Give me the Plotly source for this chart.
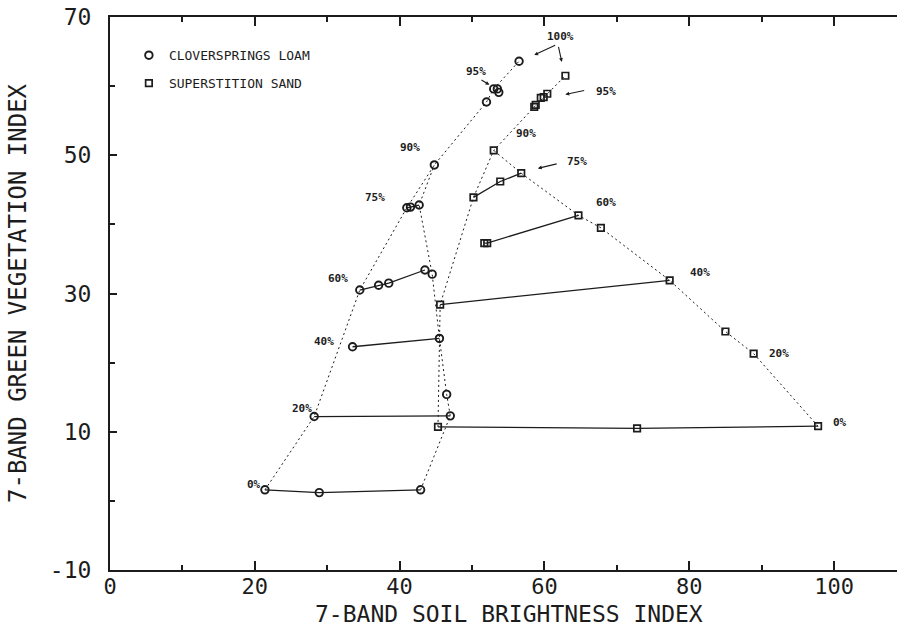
import plotly.graph_objects as go

# ---------------- data: Cloverspings loam (circles) ----------------
loam_0_x = [21.4, 28.9, 42.9]
loam_0_y = [1.6, 1.2, 1.6]
loam_20_x = [28.2, 47.0]
loam_20_y = [12.2, 12.3]
loam_40_x = [33.5, 45.5]
loam_40_y = [22.3, 23.5]
loam_60_x = [34.5, 37.1, 38.5, 43.5]
loam_60_y = [30.5, 31.2, 31.5, 33.4]
loam_75_x = [41.0, 41.5, 42.7]
loam_75_y = [42.4, 42.5, 42.8]
loam_95_x = [52.0, 53.0, 53.5, 53.7]
loam_95_y = [57.7, 59.6, 59.6, 59.1]
loam_single_x = [46.5, 44.5, 44.8, 56.5]
loam_single_y = [15.4, 32.8, 48.6, 63.6]

loam_chainA_x = [21.4, 28.2, 34.5, 41.0, 44.8, 52.0, 53.0, 56.5]
loam_chainA_y = [1.6, 12.2, 30.5, 42.4, 48.6, 57.7, 59.6, 63.6]
loam_chainB_x = [42.9, 47.0, 46.5, 45.5, 44.5, 42.7, 44.8]
loam_chainB_y = [1.6, 12.3, 15.4, 23.5, 32.8, 42.8, 48.6]

# ---------------- data: Superstition sand (squares) ----------------
sand_0_x = [45.3, 72.8, 97.8]
sand_0_y = [10.7, 10.5, 10.8]
sand_40_x = [45.6, 77.3]
sand_40_y = [28.4, 31.9]
sand_60_x = [51.7, 52.1, 64.7]
sand_60_y = [37.3, 37.3, 41.3]
sand_75_x = [50.2, 53.9, 56.8]
sand_75_y = [43.9, 46.2, 47.4]
sand_single_x = [88.9, 85.0, 67.8, 53.0, 62.9]
sand_single_y = [21.3, 24.5, 39.5, 50.7, 61.5]
sand_95_x = [58.6, 58.8, 59.5, 59.9, 60.4]
sand_95_y = [57.0, 57.3, 58.3, 58.4, 58.9]

sand_chainC_x = [45.3, 45.6, 50.2, 53.0, 58.7, 62.9]
sand_chainC_y = [10.7, 28.4, 43.9, 50.7, 57.1, 61.5]
sand_chainD_x = [97.8, 88.9, 85.0, 77.3, 67.8, 64.7, 56.8, 53.0]
sand_chainD_y = [10.8, 21.3, 24.5, 31.9, 39.5, 41.3, 47.4, 50.7]

# ---------------- labels ----------------
label_text = ["0%", "20%", "40%", "60%", "75%", "90%", "95%", "100%",
              "95%", "90%", "75%", "60%", "40%", "20%", "0%"]
label_x = [19.9, 26.5, 29.6, 31.5, 36.6, 41.5, 50.6, 62.2,
           68.5, 57.5, 64.5, 68.5, 81.5, 92.4, 100.8]
label_y = [2.4, 13.4, 23.1, 32.2, 43.9, 51.1, 62.1, 67.2,
           59.2, 53.1, 49.1, 43.1, 33.1, 21.3, 11.4]

arrow_tail_x = [51.1, 61.7, 61.9, 65.7, 61.9]
arrow_tail_y = [61.0, 66.0, 65.9, 59.4, 48.8]
arrow_head_x = [52.4, 58.6, 62.4, 62.9, 59.1]
arrow_head_y = [60.2, 64.5, 63.5, 58.8, 48.1]

x_ticks = [0, 20, 40, 60, 80, 100]
y_ticks = [-10, 10, 30, 50, 70]
x_title = "7-BAND SOIL BRIGHTNESS INDEX"
y_title = "7-BAND GREEN VEGETATION INDEX"

INK = "#1c1c1c"
FONT = "DejaVu Sans Mono"

fig = go.Figure()

def dotted(x, y):
    fig.add_trace(go.Scatter(x=x, y=y, mode="lines", showlegend=False,
                             line=dict(color=INK, width=1, dash="2px,3px"),
                             hoverinfo="skip"))

def solid(x, y):
    fig.add_trace(go.Scatter(x=x, y=y, mode="lines", showlegend=False,
                             line=dict(color=INK, width=1.3),
                             hoverinfo="skip"))

for cx, cy in [(loam_chainA_x, loam_chainA_y), (loam_chainB_x, loam_chainB_y),
               (sand_chainC_x, sand_chainC_y), (sand_chainD_x, sand_chainD_y)]:
    dotted(cx, cy)

for sx, sy in [(loam_0_x, loam_0_y), (loam_20_x, loam_20_y), (loam_40_x, loam_40_y),
               (loam_60_x, loam_60_y), (loam_75_x, loam_75_y),
               (sand_0_x, sand_0_y), (sand_40_x, sand_40_y),
               (sand_60_x, sand_60_y), (sand_75_x, sand_75_y)]:
    solid(sx, sy)

circle_x = loam_0_x + loam_20_x + loam_40_x + loam_60_x + loam_75_x + loam_95_x + loam_single_x
circle_y = loam_0_y + loam_20_y + loam_40_y + loam_60_y + loam_75_y + loam_95_y + loam_single_y
square_x = sand_0_x + sand_40_x + sand_60_x + sand_75_x + sand_single_x + sand_95_x
square_y = sand_0_y + sand_40_y + sand_60_y + sand_75_y + sand_single_y + sand_95_y

fig.add_trace(go.Scatter(x=circle_x, y=circle_y, mode="markers",
                         name="CLOVERSPRINGS LOAM", legendgroup="a",
                         marker=dict(symbol="circle-open", size=7.5, color=INK,
                                     line=dict(width=1.9, color=INK))))
fig.add_trace(go.Scatter(x=square_x, y=square_y, mode="markers",
                         name="SUPERSTITION SAND", legendgroup="b",
                         marker=dict(symbol="square-open", size=6.5, color=INK,
                                     line=dict(width=1.7, color=INK))))

annotations = []
for t, x, y in zip(label_text, label_x, label_y):
    annotations.append(dict(x=x, y=y, xref="x", yref="y", text=t, showarrow=False,
                            font=dict(family=FONT, size=11, color=INK, weight="bold")))
for tx, ty, hx, hy in zip(arrow_tail_x, arrow_tail_y, arrow_head_x, arrow_head_y):
    annotations.append(dict(x=hx, y=hy, ax=tx, ay=ty, xref="x", yref="y",
                            axref="x", ayref="y", text="", showarrow=True,
                            arrowhead=2, arrowsize=0.7, arrowwidth=1.1,
                            arrowcolor=INK, standoff=0))
# x axis title
annotations.append(dict(x=0.5076, y=-0.0795, xref="paper", yref="paper",
                        xanchor="center", yanchor="middle", text=x_title,
                        showarrow=False, font=dict(family=FONT, size=23, color=INK)))

fig.update_layout(
    width=897, height=630,
    margin=dict(l=110, r=0, t=17, b=60, autoexpand=False),
    paper_bgcolor="white", plot_bgcolor="white",
    font=dict(family=FONT, color=INK),
    showlegend=True,
    legend=dict(x=0.024, y=0.958, xanchor="left", yanchor="top",
                bgcolor="rgba(0,0,0,0)", tracegroupgap=8,
                font=dict(family=FONT, size=13, color=INK)),
    annotations=annotations,
    xaxis=dict(range=[0, 108.7], tickvals=x_ticks, ticktext=[str(v) for v in x_ticks],
               automargin=False,
               showgrid=False, zeroline=False, showline=True, linecolor=INK,
               linewidth=2, mirror="ticks", ticks="inside", ticklen=9,
               tickwidth=1.5, tickcolor=INK,
               minor=dict(dtick=10, tick0=0, ticks="inside", ticklen=5,
                          tickwidth=1.5, tickcolor=INK, showgrid=False),
               tickfont=dict(family=FONT, size=22, color=INK), ticklabelstandoff=-4),
    yaxis=dict(range=[-10, 70], tickvals=y_ticks, ticktext=[str(v) for v in y_ticks],
               automargin=False,
               showgrid=False, zeroline=False, showline=True, linecolor=INK,
               linewidth=2, mirror=False, ticks="inside", ticklen=7,
               tickwidth=1.5, tickcolor=INK,
               minor=dict(dtick=20, tick0=0, ticks="inside", ticklen=5,
                          tickwidth=1.5, tickcolor=INK, showgrid=False),
               tickfont=dict(family=FONT, size=23, color=INK), ticklabelstandoff=12,
               title=dict(text=y_title, standoff=16,
                          font=dict(family=FONT, size=24, color=INK))),
)

fig.write_html("out.html", config={"displayModeBar": False},
               post_script="document.body.style.margin='0';"
                           "document.body.style.overflow='hidden';")
